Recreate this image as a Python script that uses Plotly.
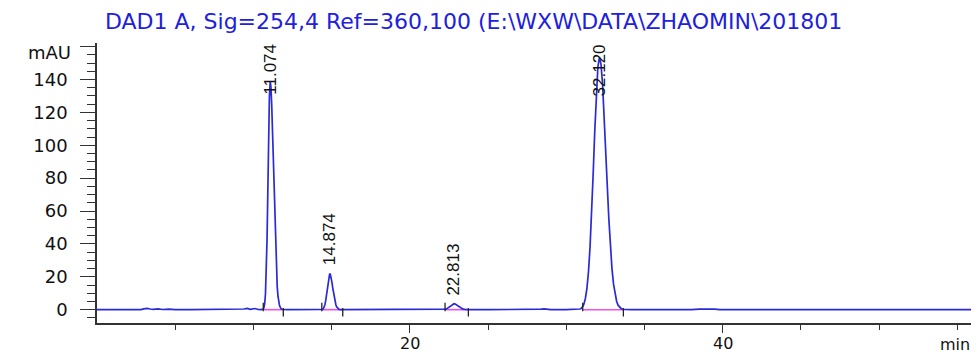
import plotly.graph_objects as go

# ---------------- data ----------------
time_min = [0.0, 1.0, 2.0, 2.8, 3.0, 3.2, 3.4, 3.6, 3.9, 4.2, 4.6, 5.0, 6.0, 7.0, 8.0, 9.0,
            9.4, 9.6, 9.8, 10.1, 10.3, 10.5,
            10.62, 10.67, 10.72, 10.77, 10.82, 10.87, 10.92, 10.97, 11.02, 11.074,
            11.12, 11.17, 11.22, 11.27, 11.32, 11.37, 11.42, 11.47, 11.52, 11.57,
            11.62, 11.67, 11.77, 11.87, 12.2, 13.0, 14.0, 14.3,
            14.42, 14.47, 14.52, 14.57, 14.62, 14.67, 14.72, 14.77, 14.82, 14.874,
            14.92, 14.97, 15.02, 15.07, 15.12, 15.17, 15.22, 15.27, 15.32, 15.37,
            15.47, 15.6, 16.5, 18.0, 20.0, 21.0, 22.1,
            22.2, 22.3, 22.4, 22.5, 22.6, 22.7, 22.82, 22.9, 23.0, 23.1, 23.2, 23.3,
            23.4, 23.55, 23.8,
            25.0, 27.0, 28.2, 28.4, 28.6, 28.8, 29.0, 30.0, 30.7, 30.85,
            30.92, 31.02, 31.12, 31.22, 31.32, 31.42, 31.52, 31.62, 31.72, 31.82,
            31.92, 32.02, 32.12, 32.22, 32.32, 32.42, 32.52, 32.62, 32.72, 32.82,
            32.92, 33.02, 33.12, 33.22, 33.32, 33.42, 33.52, 33.62, 33.72, 34.2,
            35.5, 36.3, 36.5, 36.7, 36.9, 37.1, 38.0, 38.5, 38.8, 39.1, 39.5, 39.8,
            41.0, 45.0, 50.0, 54.0, 56.0]
signal_mau = [0.0, 0.0, 0.0, 0.0, 0.5, 0.8, 0.4, 0.2, 0.5, 0.1, 0.3, 0.0, 0.0, 0.0, 0.0, 0.0,
              0.4, 0.8, 0.2, 0.7, 0.1, 0.0,
              0.3, 1.2, 3.7, 9.7, 21.9, 42.6, 71.4, 103.4, 129.1, 139.0,
              135.1, 124.2, 107.7, 88.3, 68.4, 50.1, 34.7, 22.7, 14.0, 8.2,
              4.5, 2.4, 0.5, 0.1, 0.0, 0.0, 0.0, 0.0,
              0.2, 0.6, 1.5, 3.0, 5.5, 9.0, 13.3, 17.6, 20.8, 22.0,
              21.3, 19.4, 16.6, 13.3, 10.1, 7.1, 4.8, 3.0, 1.8, 1.0,
              0.2, 0.0, 0.0, 0.0, 0.0, 0.0, 0.0,
              0.1, 0.3, 0.8, 1.5, 2.4, 3.2, 3.6, 3.4, 2.8, 2.0, 1.2, 0.6,
              0.3, 0.1, 0.0,
              0.0, 0.0, 0.0, 0.3, 0.5, 0.3, 0.0, 0.0, 0.0, 0.4,
              0.6, 1.4, 3.2, 6.8, 13.0, 23.2, 38.3, 58.5, 82.8, 108.5,
              131.5, 147.7, 153.5, 149.2, 137.1, 118.9, 97.5, 75.5, 55.3, 38.3,
              25.0, 15.5, 9.0, 5.0, 2.6, 1.3, 0.6, 0.3, 0.1, 0.0,
              0.0, 0.0, -0.3, 0.1, -0.3, 0.0, 0.0, 0.3, 0.4, 0.1, 0.3, 0.0,
              0.0, 0.0, 0.0, 0.0, 0.0]

peak_rt = [11.074, 14.874, 22.813, 32.120]
peak_labels = ["11.074", "14.874", "22.813", "32.120"]
peak_height = [139.0, 22.0, 3.6, 153.5]
peak_start = [10.63, 14.37, 22.25, 31.05]
peak_end = [11.91, 15.71, 23.74, 33.65]

y_tick_vals = [0, 20, 40, 60, 80, 100, 120, 140, 160]
y_tick_text = ["0", "20", "40", "60", "80", "100", "120", "140", ""]
x_tick_vals = [20, 40]
x_tick_text = ["20", "40"]
x_minor_vals = [5, 10, 15, 25, 30, 35, 45, 50, 55]

title_text = "DAD1 A, Sig=254,4 Ref=360,100 (E:\\WXW\\DATA\\ZHAOMIN\\201801"
y_unit = "mAU"
x_unit = "min"

# ---------------- layout constants ----------------
# the page body adds an 8px offset; margins compensate so the visible
# plot area matches the target pixel positions
OFF = 8
W, H = 979, 354
ML, MT = 97 - OFF, 43 - OFF
MR = W - (973 - OFF)
MB = H - (323 - OFF)
XR = [0, 56]
YR = [-8.1, 162.2]
plot_h = H - MT - MB
plot_w = W - ML - MR

blue = "#2a2ad8"
pink = "#f050e8"
axis_col = "#333333"
txt_col = "#111111"

fig = go.Figure()

# integration baselines (pink)
for s, e in zip(peak_start, peak_end):
    fig.add_trace(go.Scatter(x=[s, e], y=[0, 0], mode="lines",
                             line=dict(color=pink, width=1.6),
                             hoverinfo="skip", showlegend=False))

# signal
fig.add_trace(go.Scatter(x=time_min, y=signal_mau, mode="lines",
                         line=dict(color=blue, width=1.7),
                         showlegend=False))

# start / end markers
fig.add_trace(go.Scatter(x=peak_start, y=[1.6] * len(peak_start), mode="markers",
                         marker=dict(symbol="line-ns", size=6,
                                     line=dict(color="#222222", width=1.3)),
                         hoverinfo="skip", showlegend=False))
fig.add_trace(go.Scatter(x=peak_end, y=[-1.6] * len(peak_end), mode="markers",
                         marker=dict(symbol="line-ns", size=6,
                                     line=dict(color="#222222", width=1.3)),
                         hoverinfo="skip", showlegend=False))

# peak labels
label_len_px = 50
lab_font = dict(family="Liberation Sans", size=17, color=txt_col)
for rt, lab, h in zip(peak_rt, peak_labels, peak_height):
    apex_px = MT + (YR[1] - h) / (YR[1] - YR[0]) * plot_h
    if apex_px - 6 - label_len_px < MT:
        fig.add_annotation(x=rt, y=1, xref="x", yref="paper", text=lab,
                           textangle=-90, showarrow=False, xanchor="center",
                           yanchor="top", yshift=1, font=lab_font)
    else:
        fig.add_annotation(x=rt, y=h, xref="x", yref="y", text=lab,
                           textangle=-90, showarrow=False, xanchor="center",
                           yanchor="bottom", yshift=6, font=lab_font)

# x tick labels (as text under the ticks, kept inside the canvas)
xlab_font = dict(family="DejaVu Sans", size=16, color=txt_col)
for tv, tt in zip(x_tick_vals, x_tick_text):
    fig.add_annotation(x=tv, y=0, xref="x", yref="paper", text=tt, showarrow=False,
                       xanchor="center", yanchor="top", yshift=-9, font=xlab_font)

# unit labels
fig.add_annotation(x=0, y=160, xref="paper", yref="y", text=y_unit, showarrow=False,
                   xanchor="right", yanchor="middle", xshift=-24, yshift=-6,
                   font=dict(family="DejaVu Sans", size=18, color=txt_col))
fig.add_annotation(x=1, y=0, xref="paper", yref="paper", text=x_unit, showarrow=False,
                   xanchor="right", yanchor="top", yshift=-10, xshift=-1,
                   font=xlab_font)

# title (pixel position converted to paper coordinates), kept inside the canvas
fig.add_annotation(x=(103 - OFF - ML) / plot_w, y=1 + MT / plot_h,
                   xref="paper", yref="paper", text=title_text,
                   showarrow=False, xanchor="left", yanchor="top", yshift=1,
                   font=dict(family="DejaVu Sans", size=22, color="#2020e0"))

# right frame line
fig.add_shape(type="line", xref="paper", yref="paper", x0=1.0, x1=1.0,
              y0=-(MB - OFF) / plot_h, y1=1 + (MT - (17 - OFF)) / plot_h,
              line=dict(color="#444444", width=2.5))

fig.update_layout(
    width=W, height=H,
    margin=dict(l=ML, r=MR, t=MT, b=MB, pad=0),
    paper_bgcolor="white", plot_bgcolor="white",
    showlegend=False,
    xaxis=dict(range=XR, showgrid=False, zeroline=False, showline=True,
               automargin=False,
               linecolor=axis_col, linewidth=1.5,
               tickmode="array", tickvals=x_tick_vals, showticklabels=False,
               ticks="outside", ticklen=8, tickwidth=1.3, tickcolor=axis_col,
               minor=dict(tickmode="array", tickvals=x_minor_vals, ticks="outside",
                          ticklen=5, tickwidth=1.3, tickcolor=axis_col, showgrid=False)),
    yaxis=dict(range=YR, showgrid=False, zeroline=False, showline=True,
               automargin=False,
               linecolor=axis_col, linewidth=1.5,
               tickmode="array", tickvals=y_tick_vals, ticktext=y_tick_text,
               ticks="outside", ticklen=15, tickwidth=1.3, tickcolor=axis_col,
               ticklabelstandoff=9,
               tickfont=dict(family="DejaVu Sans", size=18, color=txt_col),
               minor=dict(dtick=5, tick0=0, ticks="outside", ticklen=8,
                          tickwidth=1.1, tickcolor=axis_col, showgrid=False)),
)

fig.write_html("out.html")
